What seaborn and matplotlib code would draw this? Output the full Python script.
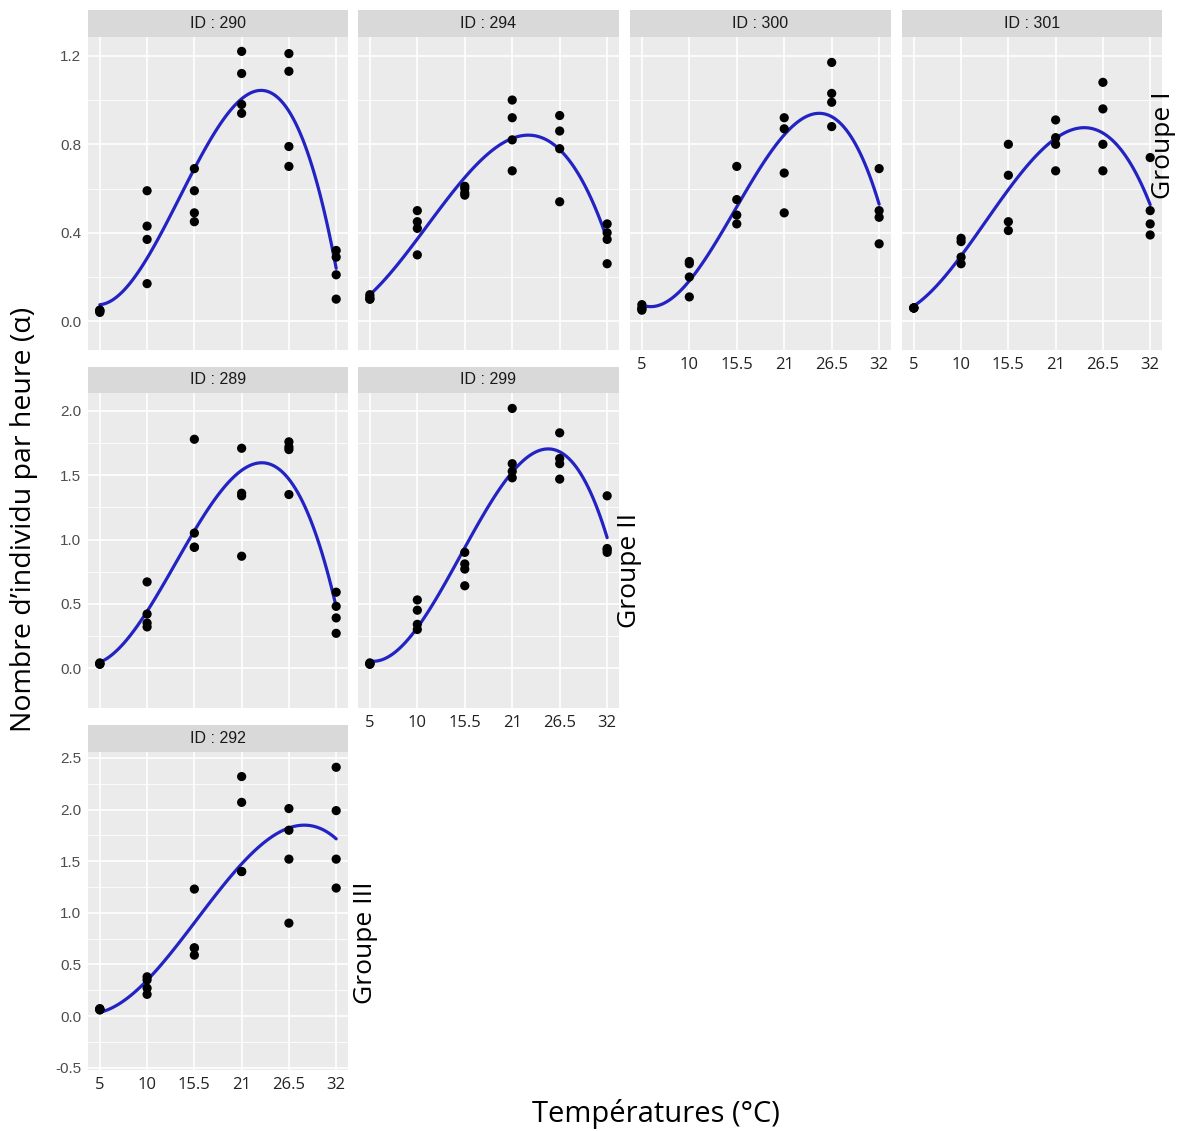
import numpy as np
import pandas as pd
import matplotlib
matplotlib.use("Agg")
import matplotlib.pyplot as plt
import seaborn as sns

# ---------------- data ----------------
temperatures = ["5", "10", "15.5", "21", "26.5", "32"]

id_290 = [[0.05, 0.045, 0.05, 0.04],
          [0.59, 0.43, 0.37, 0.17],
          [0.69, 0.59, 0.49, 0.45],
          [1.22, 1.12, 0.98, 0.94],
          [1.21, 1.13, 0.79, 0.70],
          [0.32, 0.29, 0.21, 0.10]]
id_294 = [[0.12, 0.10, 0.11, 0.10],
          [0.50, 0.45, 0.42, 0.30],
          [0.61, 0.60, 0.58, 0.57],
          [1.00, 0.92, 0.82, 0.68],
          [0.93, 0.86, 0.78, 0.54],
          [0.44, 0.40, 0.37, 0.26]]
id_300 = [[0.075, 0.06, 0.05, 0.055],
          [0.27, 0.26, 0.20, 0.11],
          [0.70, 0.55, 0.48, 0.44],
          [0.92, 0.87, 0.67, 0.49],
          [1.17, 1.03, 0.99, 0.88],
          [0.69, 0.50, 0.47, 0.35]]
id_301 = [[0.06, 0.06, 0.06, 0.06],
          [0.375, 0.36, 0.29, 0.26],
          [0.80, 0.66, 0.45, 0.41],
          [0.91, 0.83, 0.80, 0.68],
          [1.08, 0.96, 0.80, 0.68],
          [0.74, 0.50, 0.44, 0.39]]
id_289 = [[0.03, 0.04, 0.035, 0.03],
          [0.67, 0.42, 0.35, 0.32],
          [1.78, 1.05, 0.94, 0.94],
          [1.71, 1.36, 1.34, 0.87],
          [1.76, 1.72, 1.70, 1.35],
          [0.59, 0.48, 0.39, 0.27]]
id_299 = [[0.03, 0.035, 0.04, 0.03],
          [0.53, 0.45, 0.34, 0.30],
          [0.90, 0.81, 0.77, 0.64],
          [2.02, 1.59, 1.53, 1.48],
          [1.83, 1.63, 1.59, 1.47],
          [1.34, 0.93, 0.92, 0.90]]
id_292 = [[0.07, 0.06, 0.07, 0.06],
          [0.38, 0.35, 0.27, 0.21],
          [1.23, 0.66, 0.59, 0.66],
          [2.32, 2.07, 1.40, 1.40],
          [2.01, 1.80, 1.52, 0.90],
          [2.41, 1.99, 1.52, 1.24]]

panel_ids = ["290", "294", "300", "301", "289", "299", "292"]
panel_values = [id_290, id_294, id_300, id_301, id_289, id_299, id_292]

rows = []
for pid, vals in zip(panel_ids, panel_values):
    for i, reps in enumerate(vals):
        for v in reps:
            rows.append({"ID": pid, "pos": i, "temp": temperatures[i], "val": v})
df = pd.DataFrame(rows)

# ---------------- style ----------------
sns.set_theme(style="darkgrid", rc={
    "axes.facecolor": "#EBEBEB",
    "grid.color": "white",
    "axes.edgecolor": "#EBEBEB",
})
plt.rcParams["font.family"] = ["Liberation Sans", "DejaVu Sans"]

W, H = 1179, 1131
fig = plt.figure(figsize=(W / 100, H / 100), dpi=100)
fig.patch.set_facecolor("white")


def frac(x0, y0, x1, y1):
    return [x0 / W, 1 - y1 / H, (x1 - x0) / W, (y1 - y0) / H]


cols = [(88, 348), (358, 619), (630, 891), (902, 1162)]
rows_px = [(37, 350), (393, 708), (752, 1070)]
strips_px = [(10, 37), (367, 393), (725, 752)]

row_ylim = [(-0.13, 1.285), (-0.311, 2.14), (-0.523, 2.558)]
row_major = [[0.0, 0.4, 0.8, 1.2], [0.0, 0.5, 1.0, 1.5, 2.0],
             [-0.5, 0.0, 0.5, 1.0, 1.5, 2.0, 2.5]]
row_minor = [[0.2, 0.6, 1.0], [0.25, 0.75, 1.25, 1.75],
             [-0.25, 0.25, 0.75, 1.25, 1.75, 2.25]]
row_fmt = ["{:.1f}", "{:.1f}", "{:.1f}"]

# (panel index, row, col, show y labels, show x labels)
layout = [(0, 0, 0, True, False), (1, 0, 1, False, False),
          (2, 0, 2, False, True), (3, 0, 3, False, True),
          (4, 1, 0, True, False), (5, 1, 1, False, True),
          (6, 2, 0, True, True)]

line_color = "#2323C4"

for pidx, r, c, showy, showx in layout:
    pid = panel_ids[pidx]
    x0, x1 = cols[c]
    y0, y1 = rows_px[r]
    ax = fig.add_axes(frac(x0, y0, x1, y1))
    sub = df[df["ID"] == pid]
    sns.regplot(data=sub, x="pos", y="val", order=3, ci=None, scatter=False,
                truncate=True, ax=ax,
                line_kws=dict(color=line_color, lw=2.3, zorder=3))
    sns.scatterplot(data=sub, x="pos", y="val", color="black", s=44,
                    edgecolor="none", legend=False, ax=ax, zorder=4)
    ax.set_xlim(-0.25, 5.25)
    ax.set_ylim(*row_ylim[r])
    ax.set_xticks(range(len(temperatures)))
    ax.set_yticks(row_major[r])
    ax.set_yticks(row_minor[r], minor=True)
    ax.grid(True, which="major", color="white", lw=1.2)
    ax.grid(True, which="minor", axis="y", color="white", lw=0.6)
    ax.set_xlabel("")
    ax.set_ylabel("")
    for s in ax.spines.values():
        s.set_visible(False)
    ax.tick_params(axis="x", which="major", length=3, width=0.8,
                   color="#333333", pad=2)
    ax.tick_params(axis="y", which="minor", length=0)
    if showx:
        ax.set_xticklabels(temperatures, fontsize=12, color="#222222",
                           family=["Open Sans", "DejaVu Sans"])
    else:
        ax.set_xticklabels([])
    if showy:
        ax.set_yticklabels([row_fmt[r].format(v) for v in row_major[r]],
                           fontsize=11, color="#4D4D4D")
        ax.tick_params(axis="y", which="major", length=3, width=0.8,
                       color="#333333", pad=2)
    else:
        ax.set_yticklabels([])
        ax.tick_params(axis="y", which="major", length=0)

    # facet strip
    sy0, sy1 = strips_px[r]
    sax = fig.add_axes(frac(x0, sy0, x1, sy1))
    sax.set_facecolor("#D9D9D9")
    sax.set_xticks([])
    sax.set_yticks([])
    sax.grid(False)
    for s in sax.spines.values():
        s.set_visible(False)
    sax.text(0.5, 0.5, f"ID : {pid}", ha="center", va="center",
             fontsize=11.5, color="#1A1A1A", transform=sax.transAxes)

# group labels
lab_font = ["Open Sans", "DejaVu Sans"]
fig.text(1164 / W, 1 - 145 / H, "Groupe I", rotation=90, ha="center",
         va="center", fontsize=19, family=lab_font, color="black")
fig.text(630 / W, 1 - 570 / H, "Groupe II", rotation=90, ha="center",
         va="center", fontsize=19, family=lab_font, color="black")
fig.text(366 / W, 1 - 943 / H, "Groupe III", rotation=90, ha="center",
         va="center", fontsize=19, family=lab_font, color="black")

# axis titles
fig.text(24 / W, 1 - 519 / H, "Nombre d\u2019individu par heure (\u03b1)",
         rotation=90, ha="center", va="center", fontsize=20.5,
         family=lab_font, color="black")
fig.text(656 / W, 1 - 1114 / H, "Temp\u00e9ratures (\u00b0C)", ha="center",
         va="center", fontsize=21, family=lab_font, color="black")

fig.savefig("out.png", dpi=100, facecolor="white")
